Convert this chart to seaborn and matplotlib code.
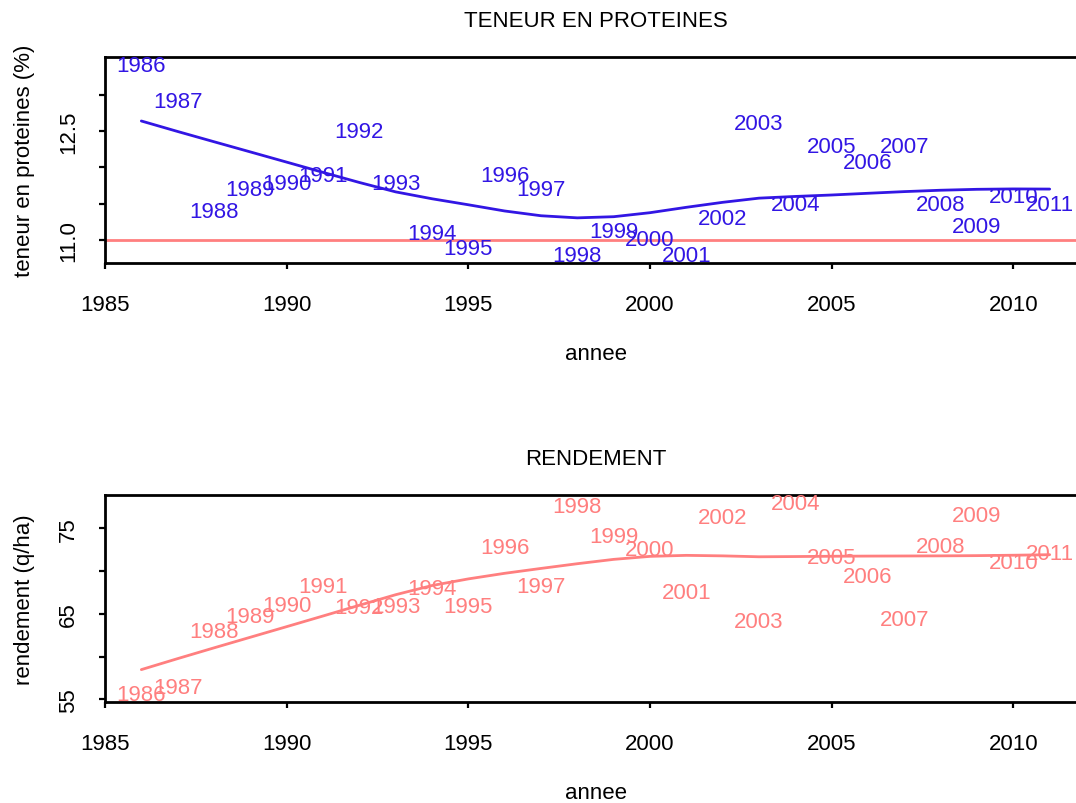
import numpy as np
import pandas as pd
import matplotlib
matplotlib.use("Agg")
import matplotlib.pyplot as plt
import seaborn as sns

# ---------------- data ----------------
years = list(range(1986, 2012))
proteines = [13.40, 12.90, 11.39, 11.69, 11.78, 11.89, 12.49, 11.78, 11.09, 10.88,
             11.89, 11.69, 10.78, 11.12, 11.00, 10.78, 11.30, 12.60, 11.48, 12.28,
             12.07, 12.29, 11.48, 11.18, 11.59, 11.48]
rendement = [55.6, 56.4, 62.9, 64.7, 66.0, 68.25, 65.7, 65.9, 67.95, 65.9,
             72.7, 68.2, 77.6, 74.1, 72.5, 67.55, 76.25, 64.15, 77.9, 71.6,
             69.35, 64.35, 72.9, 76.45, 71.0, 72.1]
ref_proteine = 11.0
top_title = "TENEUR EN PROTEINES"
bot_title = "RENDEMENT"
xlab = "annee"
top_ylab = "teneur en proteines (%)"
bot_ylab = "rendement (q/ha)"
x_ticks = [1985, 1990, 1995, 2000, 2005, 2010]
top_yticks = [11.0, 11.5, 12.0, 12.5, 13.0]
top_yticklabels = ["11.0", "", "", "12.5", ""]
bot_yticks = [55, 60, 65, 70, 75]
bot_yticklabels = ["55", "", "65", "", "75"]

BLUE = "#3216E4"
RED = "#FF7F7F"


def lowess(x, y, f=2 / 3, iters=3):
    """Cleveland's robust locally weighted regression (as R's lowess)."""
    x = np.asarray(x, float)
    y = np.asarray(y, float)
    n = len(x)
    ns = max(min(int(f * n + 1e-7), n), 2)
    rw = np.ones(n)
    ys = np.zeros(n)
    for it in range(iters + 1):
        for i in range(n):
            d = np.abs(x - x[i])
            h = np.sort(d)[ns - 1]
            w = np.zeros(n)
            h9, h1 = 0.999 * h, 0.001 * h
            for j in range(n):
                if d[j] <= h9:
                    w[j] = 1.0 if d[j] <= h1 else (1 - (d[j] / h) ** 3) ** 3
            w = w * rw
            if w.sum() <= 0:
                ys[i] = y[i]
                continue
            w = w / w.sum()
            a = np.sum(w * x)
            b = x[i] - a
            c = np.sum(w * (x - a) ** 2)
            if np.sqrt(c) > 0.001 * (x[-1] - x[0]):
                b = b / c
                ww = w * (b * (x - a) + 1.0)
            else:
                ww = w
            ys[i] = np.sum(ww * y)
        if it == iters:
            break
        res = y - ys
        cmad = 6 * np.median(np.abs(res))
        if cmad < 1e-7:
            break
        c9, c1 = 0.999 * cmad, 0.001 * cmad
        ar = np.abs(res)
        rw = np.where(ar <= c1, 1.0, np.where(ar <= c9, (1 - (ar / cmad) ** 2) ** 2, 0.0))
    return ys


df = pd.DataFrame({"annee": years, "proteines": proteines, "rendement": rendement})
df["smooth_p"] = lowess(df["annee"], df["proteines"])
df["smooth_r"] = lowess(df["annee"], df["rendement"])

sns.set_style("ticks")
plt.rcParams["font.family"] = ["Liberation Sans", "DejaVu Sans"]
plt.rcParams["axes.linewidth"] = 2.0
plt.rcParams["text.color"] = "black"
plt.rcParams["axes.labelcolor"] = "black"
plt.rcParams["xtick.color"] = "black"
plt.rcParams["ytick.color"] = "black"
FS = 16

fig = plt.figure(figsize=(10.76, 8.04), dpi=100)
W, H = 1076, 804
def pos(l, t, r, b):
    return [l / W, 1 - b / H, (r - l) / W, (b - t) / H]

ax1 = fig.add_axes(pos(105, 58, 1086, 264))
ax2 = fig.add_axes(pos(105, 496, 1086, 703))


def style(ax, yticks, ylabels, ylab, title):
    ax.set_xlim(1985, 2012)
    ax.set_xticks(x_ticks)
    ax.set_xticklabels([str(v) for v in x_ticks])
    ax.set_yticks(yticks)
    ax.set_yticklabels(ylabels, rotation=90, va="center")
    ax.tick_params(axis="both", direction="out", length=4.5, width=1.6,
                   labelsize=FS, colors="black", labelcolor="black")
    ax.tick_params(axis="x", pad=18)
    ax.tick_params(axis="y", pad=14)
    ax.set_xlabel(xlab, fontsize=FS, labelpad=20, color="black")
    ax.set_ylabel(ylab, fontsize=FS, labelpad=17, color="black")
    ax.set_title(title, fontsize=FS, pad=22, color="black")
    for s in ax.spines.values():
        s.set_color("black")
        s.set_linewidth(2.0)


# ---- top panel ----
sns.lineplot(data=df, x="annee", y="smooth_p", ax=ax1, color=BLUE, linewidth=2.0)
ax1.axhline(ref_proteine, color=RED, linewidth=2.0)
for yr, v in zip(years, proteines):
    ax1.text(yr, v, str(yr), color=BLUE, fontsize=FS, ha="center", va="center")
ax1.set_ylim(10.68, 13.52)
style(ax1, top_yticks, top_yticklabels, top_ylab, top_title)

# ---- bottom panel ----
sns.lineplot(data=df, x="annee", y="smooth_r", ax=ax2, color=RED, linewidth=2.0)
for yr, v in zip(years, rendement):
    ax2.text(yr, v, str(yr), color=RED, fontsize=FS, ha="center", va="center")
ax2.set_ylim(54.68, 78.9)
style(ax2, bot_yticks, bot_yticklabels, bot_ylab, bot_title)

fig.savefig("out.png", dpi=100)
